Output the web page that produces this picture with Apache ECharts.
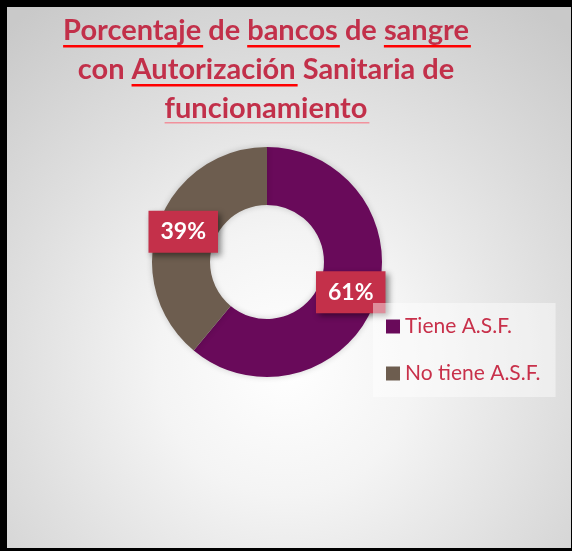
<!DOCTYPE html>
<html>
<head>
<meta charset="utf-8">
<script src="https://cdn.jsdelivr.net/npm/echarts@6/dist/echarts.min.js"></script>
<style>
  html, body { margin: 0; padding: 0; }
  #wrap {
    position: relative; width: 572px; height: 551px; overflow: hidden;
    background: radial-gradient(ellipse 75% 80% at 50% 66%, #ffffff 0%, #f4f4f4 30%, #dedede 65%, #c9c9c9 100%);
  }
  #chart { position: absolute; left: 0; top: 0; width: 572px; height: 551px; }
  #frame {
    position: absolute; left: 0; top: 0; width: 572px; height: 551px; box-sizing: border-box;
    border-style: solid; border-color: #000; border-width: 7px 1px 3px 7px;
    pointer-events: none;
  }
</style>
</head>
<body>
<div id="wrap">
  <div id="chart"></div>
  <div id="frame"></div>
</div>
<script>
// datos
const categories = ['Tiene A.S.F.', 'No tiene A.S.F.'];
const values = [61, 39];
// titulo: [texto, subrayado]
const titleLines = [
  [['Porcentaje', true], [' de ', false], ['bancos', true], [' de ', false], ['sangre', true]],
  [['con ', false], ['Autorización', true], [' Sanitaria de', false]],
  [['funcionamiento', true]]
];

const colors = ['#690A5A', '#6D5D4F'];
const titleFont = 'bold 29px Lato';
const titleColor = '#C2304A';

// medir palabras para colocar el subrayado
const ctx = document.createElement('canvas').getContext('2d');
ctx.font = titleFont;
const titleGraphics = [];
const centerX = 266;
const baseY = [31, 70, 109];
titleLines.forEach(function (line, i) {
  const full = line.map(s => s[0]).join('');
  const total = ctx.measureText(full).width;
  let x = centerX - total / 2;
  titleGraphics.push({
    type: 'text', x: centerX, y: baseY[i],
    style: { text: full, font: titleFont, fill: titleColor, align: 'center', verticalAlign: 'middle' }
  });
  line.forEach(function (seg) {
    const w = ctx.measureText(seg[0]).width;
    if (seg[1]) {
      const last = i === titleLines.length - 1;
      titleGraphics.push({
        type: 'rect',
        shape: { x: x, y: baseY[i] + (last ? 13 : 14), width: w + 2, height: last ? 1.5 : 2.5 },
        style: { fill: last ? 'rgba(255,80,100,0.55)' : '#FF0000' }
      });
    }
    x += w;
  });
});

const myChart = echarts.init(document.getElementById('chart'));
myChart.setOption({
  backgroundColor: 'transparent',
  animation: false,
  color: colors,
  graphic: titleGraphics,
  legend: {
    orient: 'vertical',
    left: 373,
    top: 303,
    data: categories,
    icon: 'rect',
    itemWidth: 14,
    itemHeight: 14,
    itemGap: 26,
    backgroundColor: 'rgba(255,255,255,0.45)',
    padding: [13, 15, 13, 13],
    itemStyle: { borderWidth: 0 },
    textStyle: { color: '#C8304A', fontFamily: 'Lato', fontSize: 21, lineHeight: 20 }
  },
  series: [
    {
      type: 'pie',
      center: [267, 262],
      radius: [57, 115],
      startAngle: 90,
      clockwise: true,
      avoidLabelOverlap: false,
      emphasis: { scale: false },
      itemStyle: { borderWidth: 0, shadowBlur: 6, shadowColor: 'rgba(0,0,0,0.18)' },
      labelLine: { show: false },
      label: {
        show: true,
        position: 'inside',
        formatter: '{d}%',
        color: '#fff',
        fontFamily: 'Lato',
        fontWeight: 'bold',
        fontSize: 23,
        lineHeight: 22,
        backgroundColor: '#C4304A',
        padding: [10, 12, 10, 12],
        shadowColor: 'rgba(0,0,0,0.45)',
        shadowBlur: 6,
        shadowOffsetX: 3,
        shadowOffsetY: 3
      },
      data: categories.map((c, i) => ({ name: c, value: values[i] }))
    }
  ]
});
</script>
</body>
</html>
